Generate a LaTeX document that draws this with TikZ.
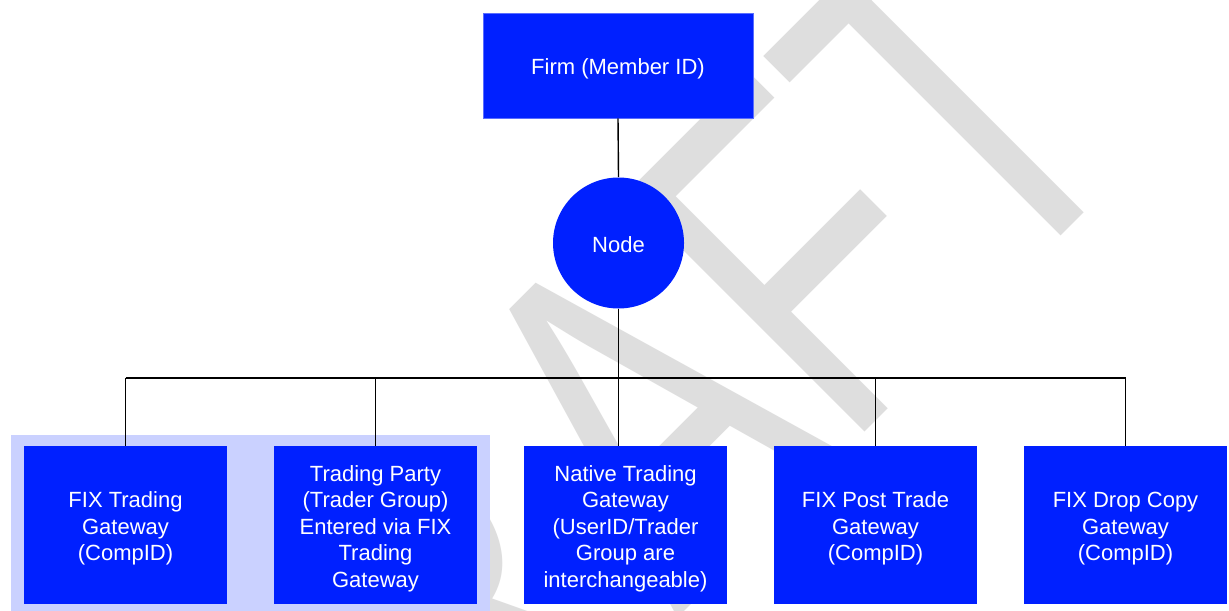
\documentclass[tikz,border=0pt]{standalone}
\usepackage{graphicx}
\usepackage{fontspec}
\setmainfont{Liberation Sans}
\definecolor{boxblue}{RGB}{0,32,255}
\definecolor{boxedge}{RGB}{90,110,255}
\definecolor{grpblue}{RGB}{202,209,255}
\definecolor{wmgray}{RGB}{222,222,222}
\newcommand\firstlinestrut{\rule{0pt}{11.5pt}}
\begin{document}
\begin{tikzpicture}[x=0.5pt,y=-0.5pt,
  box/.style={fill=boxblue, text=white, align=center, inner sep=0pt,
    font=\fontsize{11}{13.25}\selectfont},
  lowtext/.style={execute at begin node={\rule{0pt}{#1}}},
  gw/.style={box, minimum width=101.5pt, minimum height=79pt},
  link/.style={draw=black, line width=0.7pt},
  wm/.style={text=wmgray, inner sep=0pt, anchor=base west, rotate=45,
    font=\fontsize{245}{250}\selectfont}]
\useasboundingbox (0,0) rectangle (1229,610);
\fill[white] (0,0) rectangle (1229,610);
\begin{scope}
  \clip (0,0) rectangle (1229,610);
  \node[wm] (draft) at (294.9,1001.6) {\scalebox{0.72}[1]{DR\kern22pt AFT}};
\end{scope}
% group background
\node[fill=grpblue, inner sep=0pt, minimum width=239.5pt, minimum height=88pt,
  anchor=north west] (grp) at (11,435) {};
% top nodes
\node[box, lowtext=11.5pt, draw=boxedge, line width=0.4pt, minimum width=135pt, minimum height=52.5pt] (firm) at (618,65.5) {Firm (Member ID)};
\node[box, lowtext=10pt, circle, minimum size=65.5pt] (hub) at (618.5,243) {Node};
% gateways
\node[gw] (g1) at (125.5,525) {\firstlinestrut FIX Trading\\Gateway\\(CompID)};
\node[gw] (g2) at (375.5,525) {\firstlinestrut Trading Party\\(Trader Group)\\Entered via FIX\\Trading\\Gateway};
\node[gw] (g3) at (625.5,525) {\firstlinestrut Native Trading\\Gateway\\(UserID/Trader\\Group are\\interchangeable)};
\node[gw] (g4) at (875.5,525) {\firstlinestrut FIX Post Trade\\Gateway\\(CompID)};
\node[gw] (g5) at (1125.5,525) {\firstlinestrut FIX Drop Copy\\Gateway\\(CompID)};
\coordinate (bus) at (618,378);
% connectors
\draw[link] (firm.south) -- (hub.north);
\draw[link] (hub.south) -- (hub.south |- g3.north);
\draw[link] (g1.north |- bus) -- (g5.north |- bus);
\draw[link] (g1.north) -- (g1.north |- bus);
\draw[link] (g2.north) -- (g2.north |- bus);
\draw[link] (g4.north) -- (g4.north |- bus);
\draw[link] (g5.north) -- (g5.north |- bus);
\end{tikzpicture}
\end{document}
